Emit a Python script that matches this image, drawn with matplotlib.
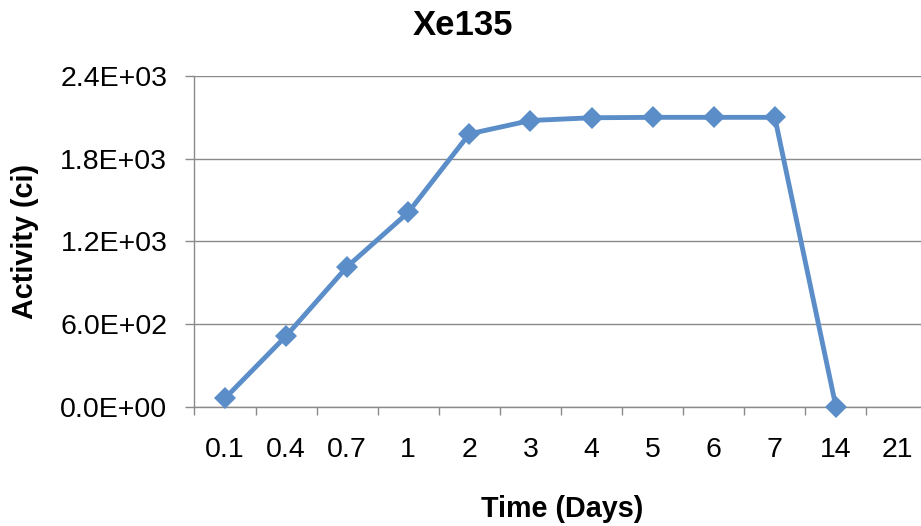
import numpy as np
import matplotlib
matplotlib.use("Agg")
import matplotlib.pyplot as plt

# time categories (days) and Xe135 activity (ci)
days = ["0.1", "0.4", "0.7", "1", "2", "3", "4", "5", "6", "7", "14", "21"]
activity = [61, 513, 1016, 1410, 1980, 2077, 2097, 2100, 2100, 2100, 0]

yticks = [0, 600, 1200, 1800, 2400]
ytick_labels = ["0.0E+00", "6.0E+02", "1.2E+03", "1.8E+03", "2.4E+03"]

line_color = "#5B8EC9"
grid_color = "#8A8A8A"

plt.rcParams["font.family"] = ["Liberation Sans", "DejaVu Sans"]


def plot_activity():
    fig = plt.figure(figsize=(9.21, 5.26), dpi=100)
    # axes run off the right edge of the figure, like the original
    ax = fig.add_axes([0.2111, 0.2268, 0.796, 0.6287])

    x = np.arange(len(activity))
    ax.plot(x, activity, color=line_color, linewidth=3.5, marker="D",
            markersize=10.8, markeredgewidth=0, clip_on=False, zorder=5)

    ax.set_xlim(-0.5, len(days) - 0.5)
    ax.set_ylim(0, 2400)

    # labels sit in the middle of each category, ticks on the boundaries
    ax.set_xticks(np.arange(len(days) + 1) - 0.5)
    ax.set_xticklabels([])
    ax.set_xticks(np.arange(len(days)), minor=True)
    ax.set_xticklabels(days, minor=True)
    ax.tick_params(axis="x", which="major", direction="out", length=6,
                   width=1, color=grid_color)
    ax.tick_params(axis="x", which="minor", length=0, pad=22,
                   labelsize=20.5)

    ax.set_yticks(yticks)
    ax.set_yticklabels(ytick_labels)
    ax.tick_params(axis="y", direction="out", length=6.5, width=1,
                   color=grid_color, pad=13, labelsize=20.5)

    ax.grid(True, axis="y", color=grid_color, linewidth=1)
    ax.set_axisbelow(True)
    for side in ["top", "right"]:
        ax.spines[side].set_visible(False)
    for side in ["left", "bottom"]:
        ax.spines[side].set_color(grid_color)
        ax.spines[side].set_linewidth(1)

    fig.text(0.503, 0.9335, "Xe135", ha="center", va="baseline",
             fontsize=25, fontweight="bold")
    fig.text(0.61, 0.0177, "Time (Days)", ha="center", va="baseline",
             fontsize=20.7, fontweight="bold")
    fig.text(0.027, 0.541, "Activity (ci)", ha="center", va="center",
             rotation=90, fontsize=20.7, fontweight="bold")

    fig.savefig("out.png", dpi=100)


def main():
    plot_activity()


if __name__ == '__main__':
    main()
